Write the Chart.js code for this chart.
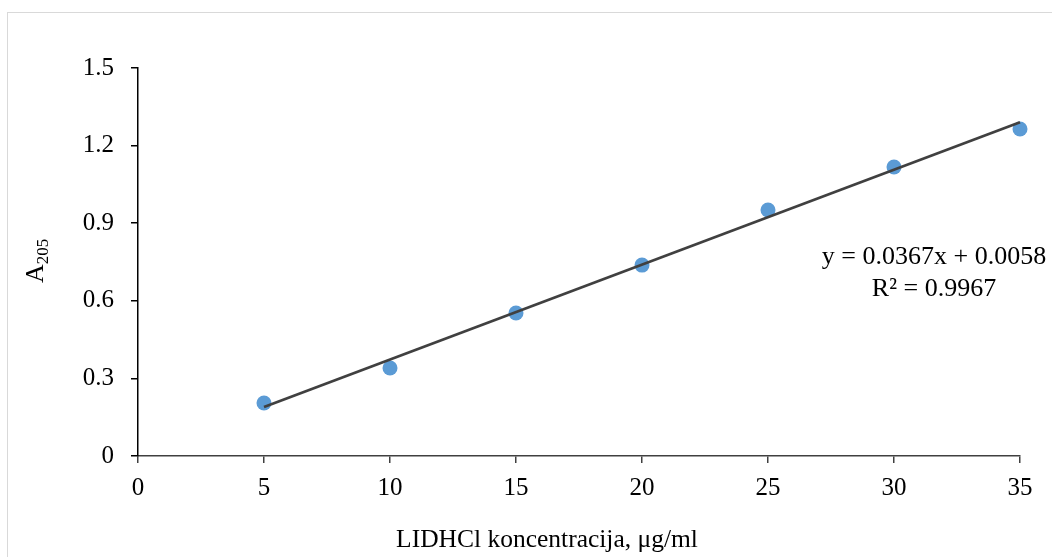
<!DOCTYPE html>
<html lang="sr">
<head>
    <meta charset="UTF-8">
    <title>LIDHCl kalibraciona kriva</title>
    <script src="https://cdn.jsdelivr.net/npm/chart.js"></script>
    <style>
        body {
            margin: 0;
            background-color: #ffffff;
        }
        #grafik {
            display: block;
        }
    </style>
</head>
<body>

<canvas id="grafik" width="1052" height="557"></canvas>

<script>
    // Izmerene vrednosti (koncentracija, apsorbanca na 205 nm)
    const koncentracije = [5, 10, 15, 20, 25, 30, 35];
    const apsorbance = [0.205, 0.340, 0.553, 0.738, 0.951, 1.117, 1.264];

    // Linearna regresija: y = 0.0367x + 0.0058, R² = 0.9967
    const nagib = 0.0367;
    const odsecak = 0.0058;
    const r2 = 0.9967;
    const trendX = [5, 35];

    const xPodeoci = [0, 5, 10, 15, 20, 25, 30, 35];
    const yPodeoci = [0, 0.3, 0.6, 0.9, 1.2, 1.5];

    const FONT = '"Liberation Serif", "Times New Roman", serif';

    // okvir, naslovi osa i jednacina trenda
    const dodaci = {
        id: 'dodaci',
        beforeDraw(chart) {
            const ctx = chart.ctx;
            ctx.save();
            ctx.fillStyle = '#ffffff';
            ctx.fillRect(0, 0, chart.width, chart.height);
            ctx.strokeStyle = '#d9d9d9';
            ctx.lineWidth = 1;
            ctx.strokeRect(7.5, 12.5, chart.width + 10, chart.height + 10);
            ctx.restore();
        },
        afterDraw(chart) {
            const ctx = chart.ctx;
            ctx.save();
            ctx.fillStyle = '#000000';

            // naslov x ose
            ctx.font = '25.5px ' + FONT;
            ctx.textAlign = 'center';
            ctx.textBaseline = 'alphabetic';
            ctx.fillText('LIDHCl koncentracija, μg/ml', 547, 547);

            // jednacina i R²
            ctx.font = '26px ' + FONT;
            ctx.fillText('y = ' + nagib + 'x + ' + odsecak.toFixed(4), 934, 264);
            ctx.fillText('R² = ' + r2, 934, 296);

            // naslov y ose sa indeksom
            ctx.translate(43, 283);
            ctx.rotate(-Math.PI / 2);
            ctx.textAlign = 'left';
            ctx.font = '26px ' + FONT;
            ctx.fillText('A', 0, 0);
            const w = ctx.measureText('A').width;
            ctx.font = '17px ' + FONT;
            ctx.fillText('205', w, 5);
            ctx.restore();
        }
    };

    new Chart(document.getElementById('grafik'), {
        type: 'scatter',
        data: {
            datasets: [{
                type: 'line',
                label: 'Linear',
                data: trendX.map(x => ({ x: x, y: nagib * x + odsecak })),
                borderColor: '#404040',
                borderWidth: 2.75,
                pointRadius: 0,
                fill: false,
                order: 0,
                clip: false
            }, {
                label: 'A205',
                data: koncentracije.map((x, i) => ({ x: x, y: apsorbance[i] })),
                backgroundColor: '#5b9bd5',
                borderColor: '#5b9bd5',
                pointRadius: 7.5,
                pointBorderWidth: 0,
                order: 1,
                clip: false
            }]
        },
        options: {
            responsive: false,
            animation: false,
            events: [],
            layout: {
                padding: { left: 0, top: 68, right: 32, bottom: 0 }
            },
            plugins: {
                legend: { display: false },
                tooltip: { enabled: false }
            },
            scales: {
                x: {
                    type: 'linear',
                    min: 0,
                    max: 35,
                    afterBuildTicks: s => { s.ticks = xPodeoci.map(v => ({ value: v })); },
                    afterFit: s => { s.height = 101; },
                    ticks: {
                        color: '#000000',
                        font: { family: FONT, size: 25 },
                        padding: 10,
                        maxRotation: 0,
                        autoSkip: false
                    },
                    grid: {
                        drawOnChartArea: false,
                        drawTicks: true,
                        tickLength: 7,
                        color: '#404040',
                        lineWidth: 1.5
                    },
                    border: { color: '#404040', width: 1.5 }
                },
                y: {
                    min: 0,
                    max: 1.5,
                    afterBuildTicks: s => { s.ticks = yPodeoci.map(v => ({ value: v })); },
                    afterFit: s => { s.width = 138; },
                    ticks: {
                        color: '#000000',
                        font: { family: FONT, size: 25 },
                        padding: 17,
                        callback: v => String(v)
                    },
                    grid: {
                        drawOnChartArea: false,
                        drawTicks: true,
                        tickLength: 7,
                        color: '#000000',
                        lineWidth: 1.5
                    },
                    border: { color: '#000000', width: 1.5 }
                }
            }
        },
        plugins: [dodaci]
    });
</script>

</body>
</html>
